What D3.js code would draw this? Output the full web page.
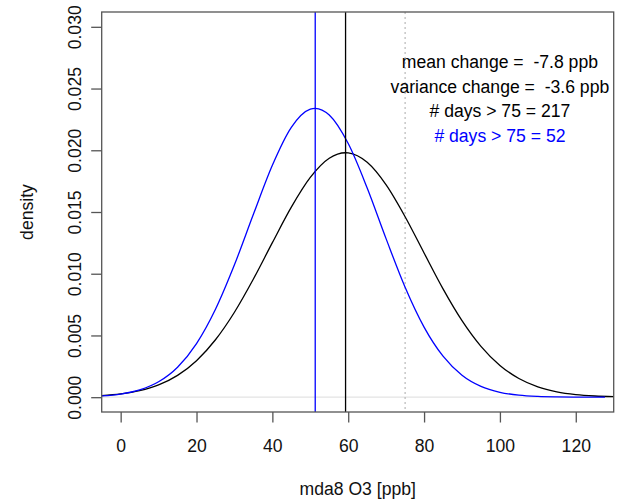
<!DOCTYPE html>
<html>
<head>
<meta charset="utf-8">
<script src="https://cdn.jsdelivr.net/npm/d3@7"></script>
<style>
  body { margin: 0; background: #fff; }
  svg text { font-family: "Liberation Sans", Arial, sans-serif; }
</style>
</head>
<body>
<div id="chart"></div>
<script>
// Values
var xBlack = [-5, 0, 5, 10, 15, 20, 25, 30, 35, 40, 45, 50, 55, 59.3, 60, 65, 70, 75, 80, 85, 90, 95, 100, 105, 110, 115, 120, 125, 130];
var densBlack = [0.000122, 0.000261, 0.000524, 0.000993, 0.001766, 0.002956, 0.004651, 0.006878, 0.009569, 0.012516, 0.015393, 0.017800, 0.019354, 0.0198, 0.019788, 0.019024, 0.017196, 0.014616, 0.011682, 0.008777, 0.006203, 0.004122, 0.002574, 0.001512, 0.000836, 0.000434, 0.000212, 0.0000973, 0.000042];

var xBlue = [-5, 0, 5, 10, 15, 20, 25, 30, 35, 40, 45, 50, 51.3, 55, 60, 65, 70, 75, 80, 85, 90, 95, 100, 105, 110, 115, 120, 125, 127.7];
var densBlue = [0.000100, 0.000253, 0.000586, 0.001245, 0.002427, 0.004339, 0.007121, 0.010722, 0.014817, 0.018786, 0.021856, 0.023332, 0.0234, 0.022855, 0.020543, 0.016944, 0.012823, 0.008906, 0.005675, 0.003318, 0.001780, 0.000876, 0.000396, 0.000164, 0.0000624, 0.0000218, 0.000007, 0.000002, 0.000001];

var meanBlack = 59.3;
var meanBlue = 51.3;
var threshold = 75;

var xTicks = [0, 20, 40, 60, 80, 100, 120];
var yTicks = [0, 0.005, 0.010, 0.015, 0.020, 0.025, 0.030];

var notes = ["mean change =  -7.8 ppb", "variance change =  -3.6 ppb", "# days > 75 = 217", "# days > 75 = 52"];
var noteColors = ["#000", "#000", "#000", "#0000ff"];

// Set width and height
var svgWidth = 623;
var svgHeight = 503;
var plotLeft = 101.7, plotRight = 613.7, plotTop = 12, plotBottom = 412;

var svg = d3.select("#chart").append("svg")
            .attr("width", svgWidth)
            .attr("height", svgHeight);

var x = d3.scaleLinear().domain([-5, 130]).range([plotLeft, plotRight]);
var y = d3.scaleLinear().domain([-0.0012, 0.0312]).range([plotBottom, plotTop]);

var axisColor = "#555";
var fontSize = "17.6px";

// Grey zero line and dotted threshold line
svg.append("line")
   .attr("x1", plotLeft).attr("x2", plotRight)
   .attr("y1", y(0)).attr("y2", y(0))
   .attr("stroke", "#e3e3e3").attr("stroke-width", 1.2);

svg.append("line")
   .attr("x1", x(threshold)).attr("x2", x(threshold))
   .attr("y1", plotTop).attr("y2", plotBottom)
   .attr("stroke", "#b8b8b8").attr("stroke-width", 1.2)
   .attr("stroke-dasharray", "2,3");

// Density curves
var line = d3.line()
             .x(function(d) { return x(d[0]); })
             .y(function(d) { return y(d[1]); })
             .curve(d3.curveMonotoneX);

svg.append("path")
   .datum(d3.zip(xBlack, densBlack))
   .attr("d", line)
   .attr("fill", "none")
   .attr("stroke", "#000")
   .attr("stroke-width", 1.3);

svg.append("path")
   .datum(d3.zip(xBlue, densBlue))
   .attr("d", line)
   .attr("fill", "none")
   .attr("stroke", "#0000ff")
   .attr("stroke-width", 1.3);

// Mean lines
svg.selectAll("line.mean")
   .data([[meanBlue, "#0000ff"], [meanBlack, "#000"]])
   .enter()
   .append("line")
   .attr("class", "mean")
   .attr("x1", function(d) { return x(d[0]); })
   .attr("x2", function(d) { return x(d[0]); })
   .attr("y1", plotTop).attr("y2", plotBottom)
   .attr("stroke", function(d) { return d[1]; })
   .attr("stroke-width", 1.3);

// Annotations
svg.selectAll("text.note")
   .data(notes)
   .enter()
   .append("text")
   .attr("class", "note")
   .attr("x", x(100))
   .attr("y", function(d, i) { return 68 + i * 24.5; })
   .attr("text-anchor", "middle")
   .attr("font-size", fontSize)
   .attr("fill", function(d, i) { return noteColors[i]; })
   .style("white-space", "pre")
   .text(function(d) { return d; });

// Axes
var xAxis = svg.append("g")
               .attr("transform", "translate(0," + plotBottom + ")")
               .call(d3.axisBottom(x).tickValues(xTicks).tickSize(10.5).tickPadding(17).tickSizeOuter(0));
xAxis.select(".domain").remove();
xAxis.selectAll("line").attr("stroke", axisColor).attr("stroke-width", 1.3);
xAxis.selectAll("text").attr("font-size", fontSize).attr("fill", "#111")
     .attr("font-family", "Liberation Sans, Arial, sans-serif");

var yAxis = svg.append("g")
               .attr("transform", "translate(" + plotLeft + ",0)")
               .call(d3.axisLeft(y).tickValues(yTicks).tickFormat(d3.format(".3f")).tickSize(10.5).tickSizeOuter(0));
yAxis.select(".domain").remove();
yAxis.selectAll("line").attr("stroke", axisColor).attr("stroke-width", 1.3);
yAxis.selectAll("text")
     .attr("font-size", fontSize).attr("fill", "#111")
     .attr("font-family", "Liberation Sans, Arial, sans-serif")
     .attr("x", null).attr("dy", null)
     .attr("text-anchor", "middle")
     .attr("transform", "translate(-21,0) rotate(-90)");

// Plot box
svg.append("rect")
   .attr("x", plotLeft).attr("y", plotTop)
   .attr("width", plotRight - plotLeft).attr("height", plotBottom - plotTop)
   .attr("fill", "none")
   .attr("stroke", axisColor)
   .attr("stroke-width", 1.3);

// Axis titles
svg.append("text")
   .attr("x", (plotLeft + plotRight) / 2)
   .attr("y", 495)
   .attr("text-anchor", "middle")
   .attr("font-size", fontSize)
   .attr("fill", "#111")
   .text("mda8 O3 [ppb]");

svg.append("text")
   .attr("transform", "translate(33," + ((plotTop + plotBottom) / 2) + ") rotate(-90)")
   .attr("text-anchor", "middle")
   .attr("font-size", fontSize)
   .attr("fill", "#111")
   .text("density");
</script>
</body>
</html>
